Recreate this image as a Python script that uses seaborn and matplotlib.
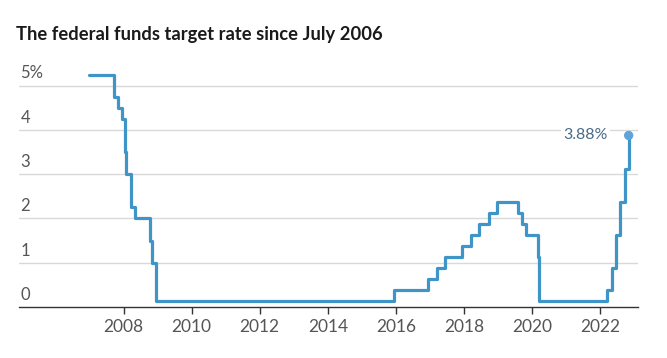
import pandas as pd
import numpy as np
import matplotlib.pyplot as plt
import matplotlib.dates as mdates
import seaborn as sns

# ── Data: target rate change dates and (midpoint) target levels ──
change_dates = [
    "2007-01-01", "2007-09-18", "2007-10-31", "2007-12-11", "2008-01-22",
    "2008-01-30", "2008-03-18", "2008-04-30", "2008-10-08", "2008-10-29",
    "2008-12-16", "2015-12-16", "2016-12-14", "2017-03-15", "2017-06-14",
    "2017-12-13", "2018-03-21", "2018-06-13", "2018-09-26", "2018-12-19",
    "2019-07-31", "2019-09-18", "2019-10-30", "2020-03-03", "2020-03-15",
    "2022-03-16", "2022-05-04", "2022-06-15", "2022-07-27", "2022-09-21",
    "2022-11-02",
]
target_rate = [
    5.25, 4.75, 4.50, 4.25, 3.50,
    3.00, 2.25, 2.00, 1.50, 1.00,
    0.125, 0.375, 0.625, 0.875, 1.125,
    1.375, 1.625, 1.875, 2.125, 2.375,
    2.125, 1.875, 1.625, 1.125, 0.125,
    0.375, 0.875, 1.625, 2.375, 3.125,
    3.875,
]
y_ticks = [0, 1, 2, 3, 4, 5]
y_labels = ["0", "1", "2", "3", "4", "5%"]
x_tick_years = [2008, 2010, 2012, 2014, 2016, 2018, 2020, 2022]
last_label = "3.88%"

df = pd.DataFrame({"date": pd.to_datetime(change_dates), "rate": target_rate})

# ── Style ──
sns.set_style("white")
plt.rcParams['font.family'] = ['Lato', 'DejaVu Sans']
LINE = '#3f95c8'
GRID = '#d9d9d9'
TXT = '#555555'

fig = plt.figure(figsize=(6.67, 3.58), dpi=100)
ax = fig.add_axes([0.0285, 0.1425, 0.928, 0.6925])

sns.lineplot(data=df, x="date", y="rate", ax=ax, color=LINE, linewidth=2.3,
             drawstyle="steps-post", estimator=None, zorder=3)
ax.scatter(df["date"].iloc[-1], df["rate"].iloc[-1], s=45, color='#5ca4d9',
           zorder=4, edgecolor='none')

ax.set_xlim(pd.Timestamp("2004-12-06"), pd.Timestamp("2023-02-10"))
ax.set_ylim(0, 5.6)

# gridlines (not at 0, the spine is there)
for v in y_ticks[1:]:
    ax.axhline(v, color=GRID, linewidth=1, zorder=1)

# y labels sit above gridlines, left aligned
for v, lab in zip(y_ticks, y_labels):
    ax.annotate(lab, xy=(0, v), xycoords=('axes fraction', 'data'),
                xytext=(1, 3), textcoords='offset points',
                ha='left', va='bottom', fontsize=12, color=TXT)
ax.set_yticks([])

ax.set_xticks([pd.Timestamp(f"{y}-01-01") for y in x_tick_years])
ax.set_xticklabels([str(y) for y in x_tick_years], fontsize=12.5, color=TXT)
ax.tick_params(axis='x', length=5, width=1, color='#333333', pad=4, bottom=True)

for s in ['top', 'right', 'left']:
    ax.spines[s].set_visible(False)
ax.spines['bottom'].set_color('#333333')
ax.spines['bottom'].set_linewidth(1)
ax.set_xlabel("")
ax.set_ylabel("")

ax.annotate(last_label, xy=(df["date"].iloc[-1], df["rate"].iloc[-1]),
            xytext=(-15, 0), textcoords='offset points', ha='right', va='center',
            fontsize=11.5, color='#4a6b87',
            bbox=dict(boxstyle='square,pad=0.15', fc='white', ec='none'), zorder=5)

fig.text(0.024, 0.905, "The federal funds target rate since July 2006",
         fontsize=13.2, fontweight='bold', color='#1a1a1a', ha='left', va='center')

plt.savefig('out.png', dpi=100)
